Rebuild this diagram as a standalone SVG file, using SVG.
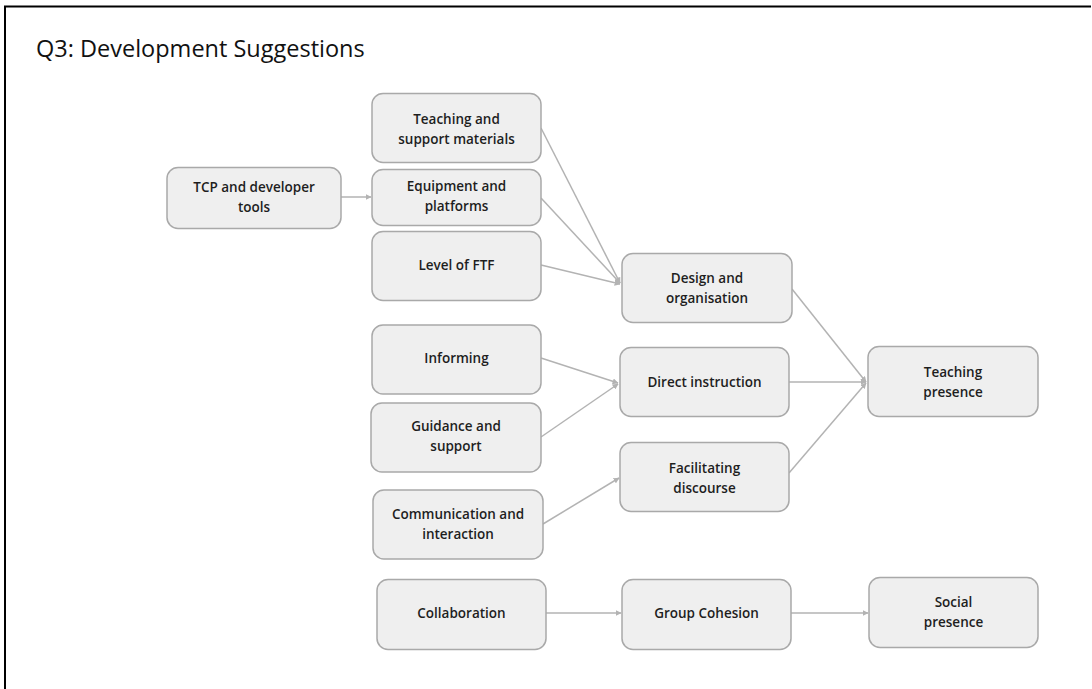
<svg xmlns="http://www.w3.org/2000/svg" width="1092" height="689" viewBox="0 0 1092 689">
<defs>
<style>
.box{fill:#efefef;stroke:#a9a9a9;stroke-width:1.5}
.t{font-family:"Open Sans","Liberation Sans",sans-serif;font-size:13.5px;font-weight:600;fill:#1e1e1e;text-anchor:middle}
.c{stroke:#b3b3b3;stroke-width:1.5;fill:none;marker-end:url(#ah)}
.title{font-family:"Open Sans","Liberation Sans",sans-serif;font-size:23.5px;font-weight:500;fill:#111}
</style>
<marker id="ah" viewBox="0 0 10 10" refX="9" refY="5" markerWidth="6" markerHeight="6" markerUnits="userSpaceOnUse" orient="auto">
<path d="M0,0 L10,5 L0,10 z" fill="#b3b3b3"/>
</marker>
</defs>
<rect width="1092" height="689" fill="#fff"/>
<path d="M5,689 V6.5 H1091" fill="none" stroke="#000" stroke-width="2"/>
<text class="title" x="36" y="57">Q3: Development Suggestions</text>

<g id="connectors">
<line class="c" x1="341" y1="197" x2="371" y2="197"/>
<line class="c" x1="541" y1="128" x2="620" y2="283"/>
<line class="c" x1="541" y1="198" x2="620" y2="283"/>
<line class="c" x1="541" y1="265" x2="620" y2="284"/>
<line class="c" x1="541" y1="358" x2="618" y2="383"/>
<line class="c" x1="541" y1="437" x2="618" y2="384"/>
<line class="c" x1="543" y1="524" x2="619" y2="478"/>
<line class="c" x1="792" y1="289" x2="866" y2="382"/>
<line class="c" x1="789" y1="382" x2="866" y2="382"/>
<line class="c" x1="789" y1="473" x2="866" y2="383"/>
<line class="c" x1="546" y1="613" x2="621" y2="613"/>
<line class="c" x1="791" y1="613" x2="868" y2="613"/>
</g>

<g id="n-teaching-materials"><rect class="box" x="372" y="93.5" width="169" height="69" rx="11"/><text class="t" x="456.5" y="124">Teaching and</text><text class="t" x="456.5" y="144">support materials</text></g>
<g id="n-tcp"><rect class="box" x="167" y="167.5" width="174" height="61" rx="11"/><text class="t" x="254" y="192">TCP and developer</text><text class="t" x="254" y="212">tools</text></g>
<g id="n-equipment"><rect class="box" x="372" y="169.5" width="169" height="56" rx="11"/><text class="t" x="456.5" y="191">Equipment and</text><text class="t" x="456.5" y="211">platforms</text></g>
<g id="n-ftf"><rect class="box" x="372" y="231.5" width="169" height="69" rx="11"/><text class="t" x="456.5" y="270">Level of FTF</text></g>
<g id="n-design"><rect class="box" x="622" y="253.5" width="170" height="69" rx="11"/><text class="t" x="707" y="283">Design and</text><text class="t" x="707" y="303">organisation</text></g>
<g id="n-informing"><rect class="box" x="372" y="325" width="169" height="69" rx="11"/><text class="t" x="456.5" y="363">Informing</text></g>
<g id="n-direct"><rect class="box" x="620" y="347.5" width="169" height="69" rx="11"/><text class="t" x="704.5" y="387">Direct instruction</text></g>
<g id="n-guidance"><rect class="box" x="371" y="403" width="170" height="69" rx="11"/><text class="t" x="456" y="431">Guidance and</text><text class="t" x="456" y="451">support</text></g>
<g id="n-facilitating"><rect class="box" x="620" y="442.5" width="169" height="69" rx="11"/><text class="t" x="704.5" y="473">Facilitating</text><text class="t" x="704.5" y="493">discourse</text></g>
<g id="n-communication"><rect class="box" x="373" y="490" width="170" height="69" rx="11"/><text class="t" x="458" y="519">Communication and</text><text class="t" x="458" y="539">interaction</text></g>
<g id="n-teaching-presence"><rect class="box" x="868" y="346.5" width="170" height="70" rx="11"/><text class="t" x="953" y="377">Teaching</text><text class="t" x="953" y="397">presence</text></g>
<g id="n-collaboration"><rect class="box" x="377" y="579.5" width="169" height="70" rx="11"/><text class="t" x="461.5" y="618">Collaboration</text></g>
<g id="n-cohesion"><rect class="box" x="622" y="579.5" width="169" height="70" rx="11"/><text class="t" x="706.5" y="618">Group Cohesion</text></g>
<g id="n-social"><rect class="box" x="869" y="577.5" width="169" height="70" rx="11"/><text class="t" x="953.5" y="607">Social</text><text class="t" x="953.5" y="627">presence</text></g>
</svg>
